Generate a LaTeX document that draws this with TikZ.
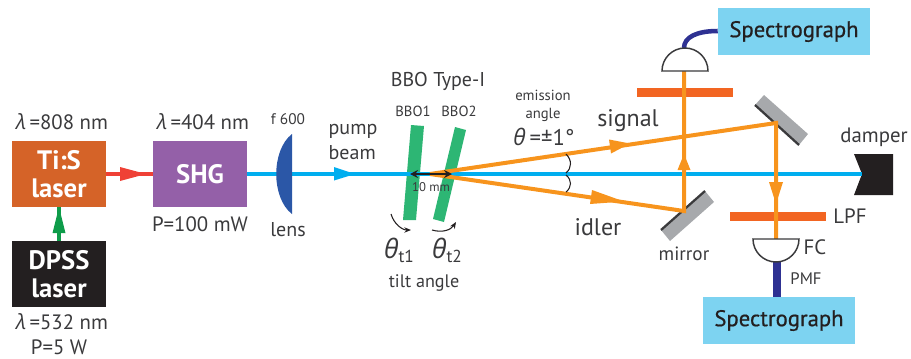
\documentclass[tikz,border=0pt]{standalone}
\usepackage{fontspec}
\setmainfont{PT Sans}
\newfontfamily\gfont[ItalicFont=Open Sans Italic]{Open Sans}
\newfontfamily\specfont[FakeBold=0.6]{PT Sans}
\usetikzlibrary{arrows.meta}
\definecolor{tisc}{HTML}{D56328}
\definecolor{shgc}{HTML}{9460A8}
\definecolor{dpssc}{HTML}{231F20}
\definecolor{beamblue}{HTML}{00AEEF}
\definecolor{lensc}{HTML}{2B57A7}
\definecolor{crystal}{HTML}{2DB674}
\definecolor{orangeb}{HTML}{F7941D}
\definecolor{filterc}{HTML}{F26522}
\definecolor{specc}{HTML}{7DD3F1}
\definecolor{fiberc}{HTML}{2E3192}
\definecolor{mirrorc}{HTML}{A7A9AC}
\definecolor{txt}{HTML}{3A3A3C}
\definecolor{redb}{HTML}{EF4136}
\definecolor{greenb}{HTML}{0E9C4A}
\newcommand{\lam}{{\gfont\itshape λ}}
\newcommand{\thet}{{\gfont\itshape θ}}
\newcommand{\tsub}[1]{\raisebox{-3pt}{\fontsize{13}{14}\selectfont #1}}
\tikzset{
  x=0.75pt,y=-0.75pt,
  lbl/.style={text=txt,inner sep=0pt,font=\fontsize{15.6}{18}\selectfont,align=center},
  lblsm/.style={text=txt,inner sep=0pt,font=\fontsize{11}{14}\selectfont,align=center},
  lblxs/.style={text=txt,inner sep=0pt,font=\fontsize{9.5}{12}\selectfont,align=center},
  lblbig/.style={text=txt,inner sep=0pt,font=\fontsize{18}{20}\selectfont,align=center},
  boxw/.style={minimum width=70.5pt,minimum height=49.5pt,inner sep=0pt,text=white,align=center,font=\fontsize{20}{20}\selectfont\bfseries},
  specbox/.style={fill=specc,minimum width=114pt,minimum height=35.25pt,inner sep=0pt,text=dpssc,font=\fontsize{17}{18}\specfont},
  filterbar/.style={fill=filterc,minimum width=72pt,minimum height=6.75pt,inner sep=0pt},
  beam/.style={draw=beamblue,line width=3.6pt},
  sig/.style={draw=orangeb,line width=3pt},
  coupler/.style={draw=txt,fill=white,line width=1.1pt},
  mirr/.style={fill=mirrorc},
  mirredge/.style={draw=txt,line width=1.7pt},
  thinarr/.style={draw=dpssc,line width=0.8pt,-{Stealth[length=5pt,width=4pt]}},
}
\begin{document}
\begin{tikzpicture}
\useasboundingbox (0,0) rectangle (911,358);
% boxes
\node[boxw,fill=tisc] (tis) at (59,174) {Ti:S\\[1pt]laser};
\node[boxw,fill=shgc] (shg) at (200,174) {SHG};
\node[boxw,fill=dpssc] (dpss) at (59,274) {DPSS\\[1pt]laser};
\node[specbox] (spectop) at (794,31.5) {Spectrograph};
\node[specbox] (specbot) at (779,320.5) {Spectrograph};
% reference points
\coordinate (notch) at (862,174);
\coordinate (start) at (430,174);
\coordinate (m1) at (776,123);
\coordinate (m2) at (684,211);
\coordinate (top) at (684,71);
\coordinate (bot) at (776,239);
\coordinate (ftop) at (684,48);
\coordinate (fbot) at (777,262);
% crystals
\fill[crystal] (411,125) -- (424,126) -- (416,220) -- (403,220) -- cycle;
\fill[crystal] (455,127) -- (466,130) -- (444,222) -- (433,219) -- cycle;
% mirrors
\fill[mirr] (764,95) -- (808,134) -- (799,145) -- (755,105) -- cycle;
\draw[mirredge] (755,105) -- (799,145);
\fill[mirr] (705,191) -- (714,202) -- (670,241) -- (661,230) -- cycle;
\draw[mirredge] (705,191) -- (661,230);
% damper
\fill[dpssc] (854,154) -- (893,154) -- (893,195) -- (854,195) -- (notch) -- cycle;
% filters
\node[filterbar] (ftopbar) at (685,92.5) {};
\node[filterbar] (fbotbar) at (778,216.5) {};
% pump beams
\draw[draw=redb,line width=3.6pt] (tis.east) -- (shg.west);
\draw[draw=greenb,line width=3.4pt] (dpss.north) -- (tis.south);
\fill[greenb] (59,207) -- (65.5,233) -- (52.5,233) -- cycle;
\fill[redb] (146,174) -- (120,167) -- (120,181) -- cycle;
\draw[beam] (shg.east) -- (notch);
\fill[beamblue] (355,174) -- (334,167) -- (334,180.5) -- cycle;
% lens
\fill[lensc] (292,134) .. controls (271,150) and (271,198) .. (292,214) -- cycle;
% orange beams
\draw[sig] (start) -- (m1) -- (bot);
\draw[sig] (start) -- (m2) -- (top);
\fill[orangeb] (630,143.5) -- (609,139.5) -- (611,153.5) -- cycle;
\fill[orangeb] (624,201.5) -- (592,190) -- (590,204) -- cycle;
\fill[orangeb] (684,154) -- (690.5,170) -- (677.5,170) -- cycle;
\fill[orangeb] (776,204) -- (769,182) -- (783,182) -- cycle;
% couplers and fibres
\draw[draw=fiberc,line width=3.4pt] (ftop) .. controls (684,37) and (697,31) .. (spectop.west |- 0,31);
\draw[draw=fiberc,line width=6pt] (fbot) -- (fbot |- specbot.north);
\draw[coupler] (662,71) arc[start angle=180,end angle=360,x radius=23,y radius=23] -- cycle;
\draw[coupler] (753,239) arc[start angle=180,end angle=0,x radius=23,y radius=23] -- cycle;
% marks
\draw[draw=dpssc,line width=1.4pt,{Stealth[length=6pt,width=6pt]}-{Stealth[length=6pt,width=6pt]}] (410,174) -- (452,174);
\draw[draw=dpssc,line width=0.8pt] (566,154) .. controls (572,160) and (572,168) .. (566,173);
\draw[draw=dpssc,line width=0.8pt] (566,175) .. controls (572,180) and (572,187) .. (566,192);
\draw[thinarr] (391,214) .. controls (394,224) and (402,230) .. (411,230);
\draw[thinarr] (432,230) .. controls (442,233) and (451,230) .. (456,222);
% labels
\node[lbl] (l1) at (62,122) {\lam\,=808 nm};
\node[lbl] (l2) at (203,122) {\lam\,=404 nm};
\node[lbl] (l3) at (200,224) {P=100 mW};
\node[lblsm,font=\fontsize{11.5}{14}\selectfont] (l4) at (288,119) {f 600};
\node[lbl,font=\fontsize{15}{18}\selectfont] (l5) at (288,230) {lens};
\node[lbl] (l6) at (62,322) {\lam\,=532 nm};
\node[lbl] (l7) at (59,347) {P=5 W};
\node[lbl,align=left,font=\fontsize{15}{19}\selectfont] (l8) at (353,142) {pump\\beam};
\node[lbl,font=\fontsize{15}{18}\selectfont] (l9) at (438,81) {BBO Type-I};
\node[lblsm] (l10) at (413,111) {BBO1};
\node[lblsm] (l11) at (459,111) {BBO2};
\node[lblsm] (l12) at (543,106) {emission\\angle};
\node[lbl,font=\fontsize{17}{18}\selectfont] (l13) at (544,137) {\thet\,=±1°};
\node[lblbig] (l14) at (628,121) {signal};
\node[lblbig] (l15) at (598,227) {idler};
\node[lblxs] (l16) at (431,187) {10 mm};
\node[lblbig,font=\fontsize{20}{22}\selectfont] (l17) at (399,250) {\thet\tsub{t1}};
\node[lblbig,font=\fontsize{20}{22}\selectfont] (l18) at (447,250) {\thet\tsub{t2}};
\node[lbl,font=\fontsize{13.6}{16}\selectfont] (l19) at (424,283) {tilt angle};
\node[lbl,font=\fontsize{14.4}{16}\selectfont] (l20) at (684,254) {mirror};
\node[lbl] (l21) at (850,216) {LPF};
\node[lbl] (l22) at (815,247) {FC};
\node[lblsm,font=\fontsize{12.5}{14}\selectfont] (l23) at (806,279) {PMF};
\node[lbl] (l24) at (874,137) {damper};
\end{tikzpicture}
\end{document}
